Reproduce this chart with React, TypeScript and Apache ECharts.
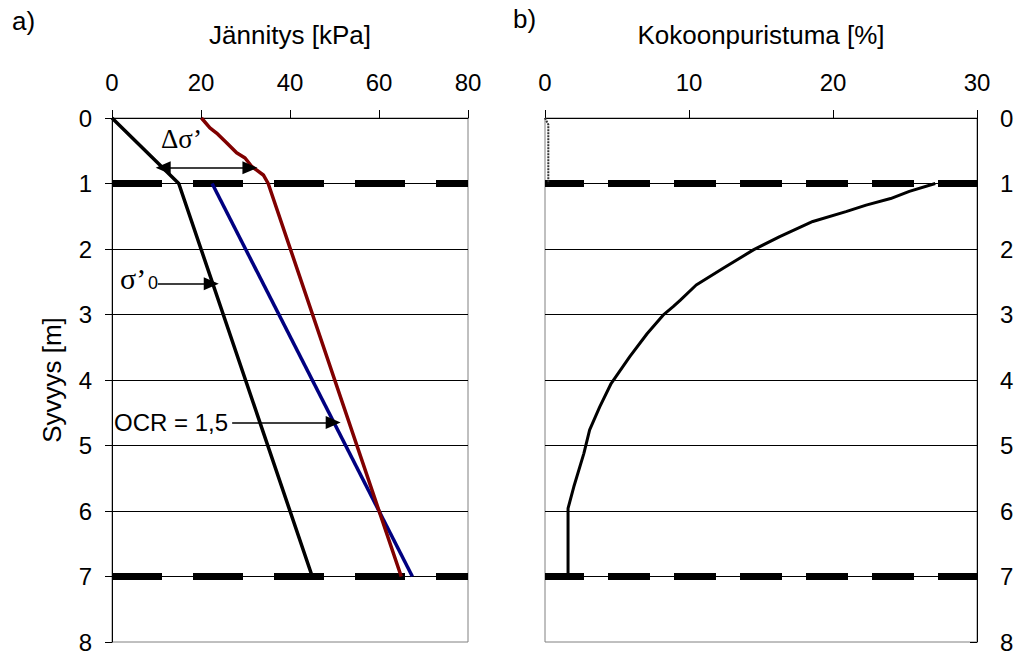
import React, { useEffect, useRef } from "react";
import * as echarts from "echarts";

// ---- data ----
const stressRange = [0, 80];
const strainRange = [0, 30];
const layerDepths = [1, 7];

// σ'0 (initial effective stress)
const sigma0Depth = [0, 1, 7];
const sigma0Stress = [0, 15, 45];

// OCR = 1,5 (preconsolidation stress)
const ocrDepth = [1, 7];
const ocrStress = [22.5, 67.5];

// final stress σ'0 + Δσ'
const finalDepth = [0, 0.15, 0.23, 0.38, 0.53, 0.61, 0.74, 0.87, 1, 7];
const finalStress = [20.1, 22, 23.5, 25.8, 28, 29.9, 31.4, 34, 35.1, 65];

// compression (Kokoonpuristuma)
const strainTopDepth = [0, 0.1, 1];
const strainTop = [0, 0.23, 0.23];
const strainDepth = [1, 1.12, 1.23, 1.33, 1.43, 1.58, 1.81, 2.01, 2.29, 2.55, 2.78, 2.88, 3.01, 3.29, 3.64, 4.05, 4.41, 4.76, 5.12, 5.63, 5.96, 7];
const strain = [27.1, 25.3, 24.0, 22.3, 20.9, 18.6, 16.3, 14.5, 12.4, 10.5, 9.4, 8.9, 8.2, 7.1, 5.9, 4.6, 3.8, 3.1, 2.7, 2.0, 1.6, 1.6];

// annotation arrows (data coordinates)
const deltaArrowDepth = 0.76;
const deltaArrowStress = [11.5, 31.0];
const sigmaArrowDepth = 2.53;
const sigmaArrowStress = [10.3, 22.3];
const ocrArrowDepth = 4.65;
const ocrArrowStress = [27.0, 49.7];

const SANS = '"Liberation Sans", Arial, sans-serif';
const SERIF = '"Liberation Serif", "Times New Roman", serif';

const pairs = (xs: number[], ys: number[]) => xs.map((x, i) => [x, ys[i]]);

export default function App() {
  const ref = useRef<HTMLDivElement>(null);
  useEffect(() => {
    if (!ref.current) return;
    const chart = echarts.init(ref.current, undefined, { renderer: "svg" });

    const xAxisCommon = (gridIndex: number, min: number, max: number, interval: number, name: string) => ({
      gridIndex,
      type: "value",
      position: "top",
      min,
      max,
      interval,
      name,
      nameLocation: "middle",
      nameGap: 70,
      nameTextStyle: { fontSize: 26, color: "#000", fontFamily: SANS },
      axisLine: { show: true, onZero: false, lineStyle: { color: "#000", width: 1 } },
      axisTick: { show: true, inside: false, length: 8, lineStyle: { color: "#000" } },
      axisLabel: { fontSize: 24, color: "#000", margin: 24, fontFamily: SANS },
      splitLine: { show: false },
    });

    const yAxisCommon = (gridIndex: number, position: string) => ({
      gridIndex,
      type: "value",
      inverse: true,
      min: 0,
      max: 8,
      interval: 1,
      position,
      axisLine: { show: true, onZero: false, lineStyle: { color: "#000", width: 1 } },
      axisTick: { show: true, inside: position === "right", length: 7, lineStyle: { color: "#000" } },
      axisLabel: { fontSize: 24, color: "#000", margin: position === "right" ? 23 : 20, fontFamily: SANS },
      splitLine: { show: true, showMinLine: false, showMaxLine: false, lineStyle: { color: "#000", width: 1 } },
    });

    const dashSeries = (xi: number, range: number[], depth: number, dash: number[], offset: number) => ({
      type: "line",
      xAxisIndex: xi,
      yAxisIndex: xi,
      data: [[range[0], depth], [range[1], depth]],
      symbol: "none",
      silent: true,
      z: 2,
      lineStyle: { color: "#000", width: 7, type: dash, dashOffset: offset, cap: "butt" },
    });

    const arrowLine = (xs: number[], y: number, both: boolean) => [
      { coord: [xs[0], y], symbol: both ? "triangle" : "none" },
      { coord: [xs[1], y], symbol: "triangle" },
    ];

    const option: any = {
      animation: false,
      backgroundColor: "#fff",
      textStyle: { fontFamily: SANS, color: "#000" },
      grid: [
        { left: 112, top: 118, width: 356, height: 524, show: true, borderColor: "#808080", borderWidth: 1, backgroundColor: "transparent", outerBoundsMode: "none", containLabel: false },
        { left: 545, top: 118, width: 432, height: 524, show: true, borderColor: "#808080", borderWidth: 1, backgroundColor: "transparent", outerBoundsMode: "none", containLabel: false },
      ],
      xAxis: [
        xAxisCommon(0, stressRange[0], stressRange[1], 20, "Jännitys [kPa]"),
        xAxisCommon(1, strainRange[0], strainRange[1], 10, "Kokoonpuristuma [%]"),
      ],
      yAxis: [
        {
          ...yAxisCommon(0, "left"),
          name: "Syvyys [m]",
          nameLocation: "middle",
          nameGap: 47,
          nameTextStyle: { fontSize: 26, color: "#000", fontFamily: SANS },
        },
        yAxisCommon(1, "right"),
      ],
      series: [
        ...layerDepths.map((d) => dashSeries(0, stressRange, d, [50, 31], 0)),
        ...layerDepths.map((d) => dashSeries(1, strainRange, d, [42, 24], 3)),
        {
          type: "line",
          name: "σ'0",
          xAxisIndex: 0,
          yAxisIndex: 0,
          data: pairs(sigma0Stress, sigma0Depth),
          symbol: "none",
          z: 3,
          lineStyle: { color: "#000", width: 3.5 },
          markLine: {
            silent: true,
            animation: false,
            symbolSize: [13, 15],
            label: { show: false },
            lineStyle: { color: "#000", width: 1.5, type: "solid" },
            data: [
              arrowLine(deltaArrowStress, deltaArrowDepth, true),
              arrowLine(sigmaArrowStress, sigmaArrowDepth, false),
              arrowLine(ocrArrowStress, ocrArrowDepth, false),
            ],
          },
        },
        {
          type: "line",
          name: "OCR = 1,5",
          xAxisIndex: 0,
          yAxisIndex: 0,
          data: pairs(ocrStress, ocrDepth),
          symbol: "none",
          z: 3,
          lineStyle: { color: "#000080", width: 3.5 },
        },
        {
          type: "line",
          name: "σ'0 + Δσ'",
          xAxisIndex: 0,
          yAxisIndex: 0,
          data: pairs(finalStress, finalDepth),
          symbol: "none",
          z: 3,
          lineStyle: { color: "#800000", width: 3.5 },
        },
        {
          type: "line",
          xAxisIndex: 1,
          yAxisIndex: 1,
          data: pairs(strainTop, strainTopDepth),
          symbol: "none",
          z: 3,
          lineStyle: { color: "#333", width: 2, type: [2, 1] },
        },
        {
          type: "line",
          name: "Kokoonpuristuma",
          xAxisIndex: 1,
          yAxisIndex: 1,
          data: pairs(strain, strainDepth),
          symbol: "none",
          z: 3,
          lineStyle: { color: "#000", width: 3 },
        },
      ],
      graphic: [
        { type: "text", x: 12, y: 8, style: { text: "a)", font: `26px ${SANS}`, fill: "#000" } },
        { type: "text", x: 513, y: 6, style: { text: "b)", font: `26px ${SANS}`, fill: "#000" } },
        { type: "text", x: 161, y: 125, style: { text: "Δσ’", font: `27px ${SERIF}`, fill: "#000" } },
        { type: "text", x: 120, y: 263, style: { text: "σ’", font: `30px ${SERIF}`, fill: "#000" } },
        { type: "text", x: 148, y: 274, style: { text: "0", font: `18px ${SANS}`, fill: "#000" } },
        { type: "text", x: 114, y: 410, style: { text: "OCR = 1,5", font: `24px ${SANS}`, fill: "#000" } },
      ],
    };

    chart.setOption(option);
    return () => chart.dispose();
  }, []);

  return (
    <div
      ref={ref}
      style={{ position: "absolute", left: 0, top: 0, width: 1029, height: 652, background: "#fff" }}
    />
  );
}
